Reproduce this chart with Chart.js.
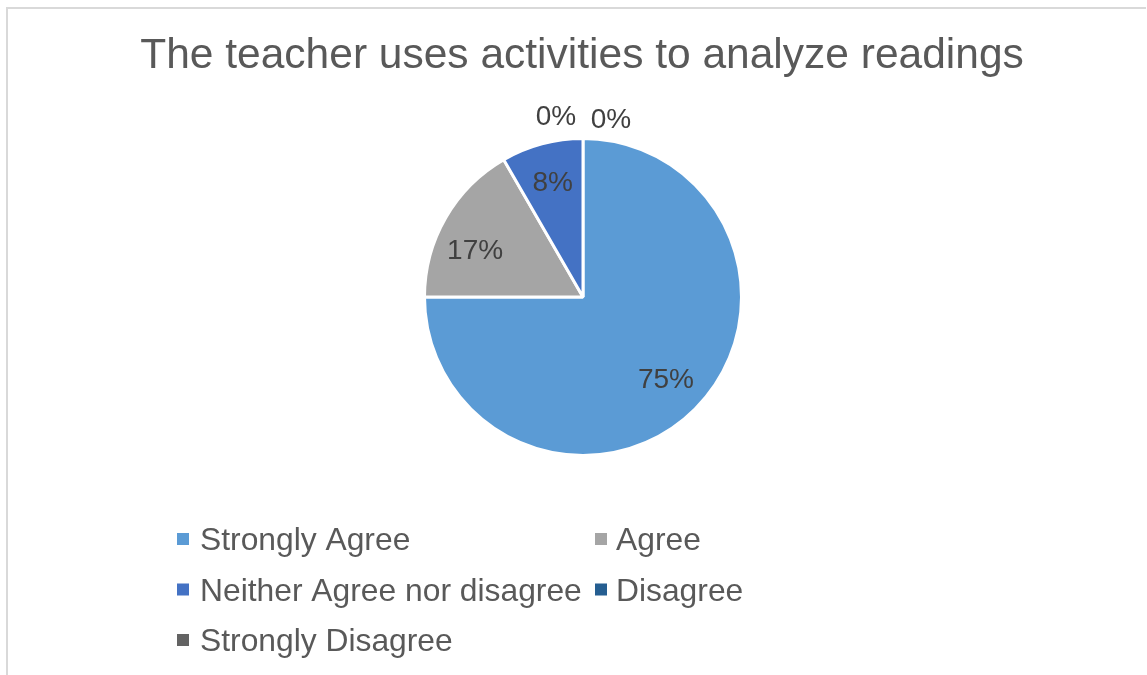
<!DOCTYPE html>
<html>
<head>
<meta charset="utf-8">
<script src="https://cdn.jsdelivr.net/npm/chart.js@4"></script>
<style>
  html, body { margin: 0; padding: 0; background: #fff; }
  #wrap { position: relative; width: 1147px; height: 675px; }
</style>
</head>
<body>
<div id="wrap"><canvas id="pieChart" width="1147" height="675"></canvas></div>
<script>
// data (12 answers -> 75 / 17 / 8 / 0 / 0 %)
const titleText = 'The teacher uses activities to analyze readings';
const categories = ['Strongly Agree', 'Agree', 'Neither Agree nor disagree', 'Disagree', 'Strongly Disagree'];
const answers = [9, 2, 1, 0, 0];
const sliceColors = ['#5B9BD5', '#A5A5A5', '#4472C4', '#255E91', '#636363'];

const FONT = '"Liberation Sans", Arial, sans-serif';

// percent labels on the slices, zero slices go above the pie
const pctLabels = {
    id: 'pctLabels',
    afterDatasetsDraw(chart) {
        const ctx = chart.ctx;
        const data = chart.data.datasets[0].data;
        const total = data.reduce((a, b) => a + b, 0);
        const arcs = chart.getDatasetMeta(0).data;
        let zeroCount = 0;
        ctx.save();
        ctx.font = '28px ' + FONT;
        ctx.fillStyle = '#404040';
        ctx.textAlign = 'center';
        ctx.textBaseline = 'middle';
        arcs.forEach((arc, i) => {
            const txt = Math.round(data[i] / total * 100) + '%';
            let x, y;
            if (data[i] === 0) {
                x = arc.x + (zeroCount === 0 ? -27 : 28);
                y = arc.y - arc.outerRadius - (zeroCount === 0 ? 21 : 18);
                zeroCount++;
            } else {
                // nudge the small grey label a bit lower, as in the original
                const mid = (arc.startAngle + arc.endAngle) / 2 - (i === 1 ? 0.12 : 0);
                const r = arc.outerRadius * 0.74;
                x = arc.x + Math.cos(mid) * r;
                y = arc.y + Math.sin(mid) * r;
            }
            ctx.fillText(txt, x, y);
        });
        ctx.restore();
    }
};

// title, frame and two-column legend like the spreadsheet chart
const frame = {
    id: 'frame',
    afterDraw(chart) {
        const ctx = chart.ctx;
        ctx.save();
        ctx.strokeStyle = '#D9D9D9';
        ctx.lineWidth = 2;
        ctx.beginPath();
        ctx.moveTo(7, 675);
        ctx.lineTo(7, 8);
        ctx.lineTo(1146, 8);
        ctx.stroke();

        ctx.fillStyle = '#595959';
        ctx.font = '42.5px ' + FONT;
        ctx.textAlign = 'center';
        ctx.textBaseline = 'alphabetic';
        ctx.fillText(titleText, 582, 68);

        ctx.font = '31.8px ' + FONT;
        ctx.textAlign = 'left';
        const colBox = [177, 595];
        const colText = [200, 616];
        categories.forEach((c, i) => {
            const col = i % 2, row = Math.floor(i / 2);
            const base = 550 + row * 50.5;
            ctx.fillStyle = sliceColors[i];
            ctx.fillRect(colBox[col], base - 17, 12, 12);
            ctx.fillStyle = '#595959';
            ctx.fillText(c, colText[col], base);
        });
        ctx.restore();
    }
};

new Chart(document.getElementById('pieChart'), {
    type: 'pie',
    data: {
        labels: categories,
        datasets: [{
            data: answers,
            backgroundColor: sliceColors,
            borderColor: '#ffffff',
            borderWidth: 3
        }]
    },
    options: {
        responsive: false,
        animation: false,
        layout: { padding: { top: 137, bottom: 218, left: 20, right: 1 } },
        plugins: {
            legend: { display: false },
            tooltip: { enabled: false },
            title: { display: false }
        }
    },
    plugins: [pctLabels, frame]
});
</script>
</body>
</html>
